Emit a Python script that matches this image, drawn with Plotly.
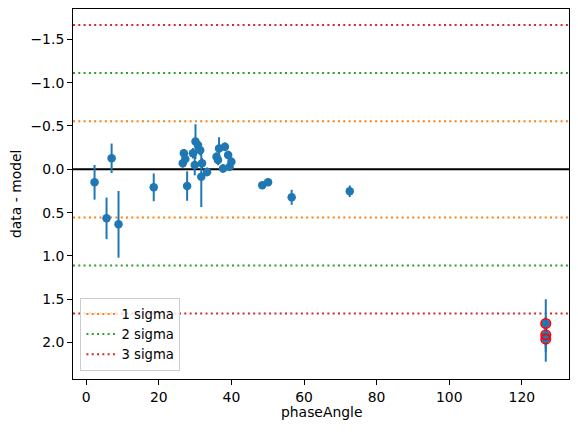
import plotly.graph_objects as go

# ---- data ----
phase_angle = [2.3, 5.6, 7.0, 8.9, 18.6,
               26.6, 26.9, 27.3, 27.8, 29.4, 29.9, 30.1, 30.8, 31.4, 31.9, 31.7, 33.3,
               35.9, 36.3, 36.6, 37.7, 38.2, 39.1, 39.5, 40.0,
               48.5, 50.1, 56.6, 72.6,
               126.6, 126.6, 126.6]
residual = [0.15, 0.566, -0.127, 0.635, 0.208,
            -0.07, -0.185, -0.12, 0.193, -0.185, -0.05, -0.32, -0.28, -0.22, -0.07, 0.085, 0.03,
            -0.145, -0.107, -0.24, -0.01, -0.26, -0.165, -0.03, -0.088,
            0.185, 0.15, 0.323, 0.254,
            1.78, 1.91, 1.96]
residual_err = [0.20, 0.24, 0.17, 0.385, 0.16,
                0.05, 0.05, 0.06, 0.17, 0.06, 0.12, 0.20, 0.06, 0.06, 0.06, 0.35, 0.05,
                0.05, 0.06, 0.13, 0.05, 0.05, 0.05, 0.05, 0.05,
                0.03, 0.03, 0.087, 0.067,
                0.28, 0.20, 0.26]
outlier_phase = [126.6, 126.6, 126.6]
outlier_resid = [1.78, 1.91, 1.96]

sigma = 0.555
sigma_levels = [1, 2, 3]
sigma_labels = ["1 sigma", "2 sigma", "3 sigma"]
sigma_colors = ["#ff7f0e", "#2ca02c", "#d62728"]

y_tickvals = [-1.5, -1.0, -0.5, 0.0, 0.5, 1.0, 1.5, 2.0]
y_ticktext = ["\u22121.5", "\u22121.0", "\u22120.5", "0.0", "0.5", "1.0", "1.5", "2.0"]
x_tickvals = [0, 20, 40, 60, 80, 100, 120]

BLUE = "#1f77b4"
FONT = "DejaVu Sans"

fig = go.Figure()

# zero line
fig.add_hline(y=0, line=dict(color="black", width=2), layer="below")

# sigma lines
for lvl, lab, col in zip(sigma_levels, sigma_labels, sigma_colors):
    for sgn in (1, -1):
        fig.add_hline(
            y=sgn * lvl * sigma,
            line=dict(color=col, width=2, dash="2px,3.3px"),
            layer="below",
            name=lab,
            showlegend=(sgn == 1),
            legendrank=lvl,
        )

# data with error bars
fig.add_trace(go.Scatter(
    x=phase_angle, y=residual, mode="markers",
    marker=dict(color=BLUE, size=8.5, line=dict(width=0)),
    error_y=dict(type="data", array=residual_err, visible=True,
                 color=BLUE, thickness=2, width=0),
    showlegend=False, hoverinfo="skip",
))

# outliers circled in red
fig.add_trace(go.Scatter(
    x=outlier_phase, y=outlier_resid, mode="markers",
    marker=dict(symbol="circle-open", color="#ff0000", size=9.5,
                line=dict(width=1.6, color="#ff0000")),
    showlegend=False, hoverinfo="skip",
))

axis_common = dict(
    showline=True, linecolor="black", linewidth=1, mirror=True,
    ticks="outside", ticklen=5, tickwidth=1, tickcolor="black",
    showgrid=False, zeroline=False, automargin=False,
    tickfont=dict(family=FONT, size=13.9, color="black"),
)

# the page body adds an 8px offset, so margins compensate for it
fig.update_layout(
    width=578, height=432,
    margin=dict(l=65, r=17, t=1, b=61),
    paper_bgcolor="white", plot_bgcolor="white",
    font=dict(family=FONT, size=13.9, color="black"),
    xaxis=dict(range=[-3.64, 133.0], tickvals=x_tickvals, **axis_common),
    yaxis=dict(range=[2.42, -1.85], tickvals=y_tickvals, ticktext=y_ticktext,
               **axis_common),
    legend=dict(x=0.015, y=0.022, xanchor="left", yanchor="bottom",
                bgcolor="rgba(255,255,255,0.8)", bordercolor="#cccccc", borderwidth=1,
                font=dict(family=FONT, size=13.2), itemwidth=30,
                tracegroupgap=0),
    showlegend=True,
    annotations=[
        dict(text="phaseAngle", xref="paper", yref="paper", x=0.5, y=-0.09,
             xanchor="center", yanchor="middle", showarrow=False,
             font=dict(family=FONT, size=13.9, color="black")),
        dict(text="data - model", xref="paper", yref="paper", x=-0.115, y=0.5,
             xanchor="center", yanchor="middle", showarrow=False, textangle=-90,
             font=dict(family=FONT, size=13.9, color="black")),
    ],
)

fig.write_html("out.html")
